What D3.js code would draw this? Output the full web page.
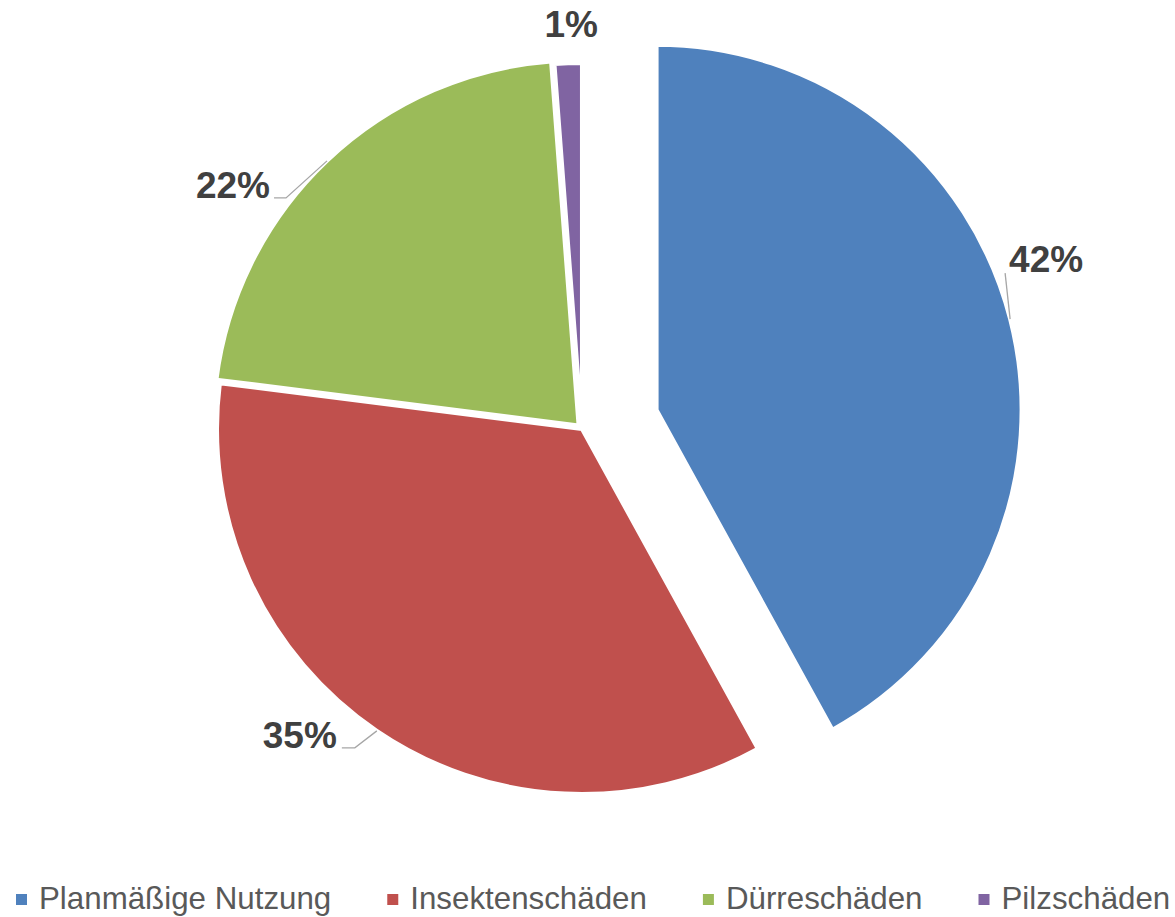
<!DOCTYPE html>
<html>
<head>
<meta charset="utf-8">
<script src="https://cdn.jsdelivr.net/npm/d3@7"></script>
<style>
    body { margin: 0; background: #ffffff; }
    svg { display: block; font-family: "Liberation Sans", Arial, sans-serif; }
</style>
</head>
<body>
<div id="piechart"></div>
<script>
// Chart data
const categories = ["Planmäßige Nutzung", "Insektenschäden", "Dürreschäden", "Pilzschäden"];
const shares = [42.0, 35.0, 21.8, 1.2];
const sliceColors = ["#4f81bd", "#c0504d", "#9bbb59", "#8064a2"];

// Layout
const width = 1175;
const height = 917;
const center = { x: 582, y: 429 };
const radius = 365;
const explode = [77, 0, 5, 1];

// label placement relative to the slice's outer midpoint
const labelLayout = [
    { dx: -1, dy: -47, anchor: "start", leader: [[0, 0], [-5, -46]] },
    { dx: -40, dy: 17, anchor: "end", leader: [[0, 0], [-22, 17], [-35, 17]] },
    { dx: -57, dy: 37, anchor: "end", leader: [[0, 0], [-41, 37], [-53, 37]] },
    { dx: 3, dy: -26, anchor: "middle", leader: null }
];

const data = categories.map((c, i) => ({ name: c, value: shares[i], color: sliceColors[i] }));

const svg = d3.select("#piechart")
    .append("svg")
    .attr("width", width)
    .attr("height", height);

const pie = d3.pie()
    .sort(null)
    .value(d => d.value);

const arcs = pie(data);

const arc = d3.arc()
    .innerRadius(0)
    .outerRadius(radius);

// direction of a slice's middle angle
const dir = d => {
    const a = (d.startAngle + d.endAngle) / 2;
    return [Math.sin(a), -Math.cos(a)];
};

const pieGroup = svg.append("g")
    .attr("transform", `translate(${center.x},${center.y})`);

pieGroup.selectAll("path.slice")
    .data(arcs)
    .join("path")
    .attr("class", "slice")
    .attr("transform", (d, i) => {
        const [ux, uy] = dir(d);
        return `translate(${ux * explode[i]},${uy * explode[i]})`;
    })
    .attr("d", arc)
    .attr("fill", d => d.data.color)
    .attr("stroke", "#ffffff")
    .attr("stroke-width", 4)
    .attr("stroke-linejoin", "round");

// Data labels with leader lines
arcs.forEach((d, i) => {
    const [ux, uy] = dir(d);
    const r = radius + explode[i];
    const ox = ux * r;
    const oy = uy * r;
    const lay = labelLayout[i];

    if (lay.leader) {
        pieGroup.append("polyline")
            .attr("points", lay.leader.map(p => `${ox + p[0]},${oy + p[1]}`).join(" "))
            .attr("fill", "none")
            .attr("stroke", "#a6a6a6")
            .attr("stroke-width", 1.3);
    }

    pieGroup.append("text")
        .attr("x", ox + lay.dx)
        .attr("y", oy + lay.dy)
        .attr("text-anchor", lay.anchor)
        .style("font-size", "37px")
        .style("font-weight", "bold")
        .attr("fill", "#404040")
        .text(`${Math.round(d.data.value)}%`);
});

// Legend along the bottom
const legend = svg.append("g")
    .attr("transform", "translate(16, 909)");

let xOffset = 0;
const boxSize = 11;
const itemGap = 56;

data.forEach(d => {
    const item = legend.append("g")
        .attr("transform", `translate(${xOffset},0)`);

    item.append("rect")
        .attr("x", 0)
        .attr("y", -15)
        .attr("width", boxSize)
        .attr("height", boxSize)
        .attr("fill", d.color);

    const label = item.append("text")
        .attr("x", boxSize + 12)
        .attr("y", 0)
        .style("font-size", "31.3px")
        .attr("fill", "#595959")
        .text(d.name);

    xOffset += boxSize + 12 + label.node().getComputedTextLength() + itemGap;
});
</script>
</body>
</html>
